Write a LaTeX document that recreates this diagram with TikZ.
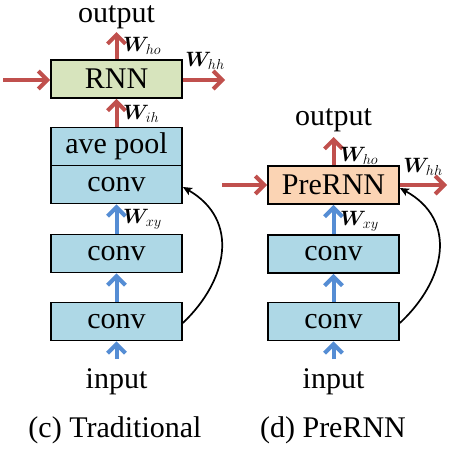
\documentclass[tikz,border=0pt]{standalone}
\usepackage{fontspec}
\setmainfont{Liberation Serif}
\usepackage{amsmath,bm}
\usetikzlibrary{arrows.meta}
\definecolor{redc}{RGB}{192,80,77}
\definecolor{bluec}{RGB}{85,141,212}
\definecolor{boxblue}{RGB}{174,216,230}
\definecolor{boxgreen}{RGB}{215,228,189}
\definecolor{boxorange}{RGB}{251,212,180}
\begin{document}
\begin{tikzpicture}[x=1pt,y=-1pt,
  box/.style={draw, line width=1.8pt, minimum width=131pt, minimum height=38pt, inner sep=0pt, font=\fontsize{30}{34}\selectfont, fill=boxblue},
  txt/.style={font=\fontsize{30}{34}\selectfont, inner sep=0pt, anchor=base},
  wl/.style={font=\fontsize{22}{24}\selectfont, inner sep=0pt},
  redarr/.style={draw=redc, line width=4pt, -{Straight Barb[length=9pt,width=18pt]}},
  bluearr/.style={draw=bluec, line width=4pt, -{Straight Barb[length=9pt,width=18pt]}},
  skiparr/.style={draw=black, line width=1.7pt, -{Stealth[length=9pt,width=8pt,inset=2pt]}}]
\useasboundingbox (0,0) rectangle (450,450);
% ---- left (c) ----
\node[box, fill=boxgreen] (rnn) at (116.5,79) {RNN};
\node[box] (pool) at (116.5,146.5) {ave pool};
\node[box] (c1) at (116.5,184.5) {conv};
\node[box] (c2) at (116.5,253.5) {conv};
\node[box] (c3) at (116.5,321.5) {conv};
\node[txt] (out1) at (116.5,22.5) {output};
\node[txt] (in1) at (116.5,388) {input};
\node[txt] (cap1) at (115,437) {(c) Traditional};
\coordinate (ltop) at (116.5,32);
\coordinate (lin) at (3,80);
\coordinate (lout) at (225,80);
\coordinate (lbot) at (116.5,359);
\draw[redarr] (rnn.north) -- (ltop);
\draw[redarr] (lin) -- (rnn.west |- lin);
\draw[redarr] (rnn.east |- lout) -- (lout);
\draw[redarr] (pool.north) -- (rnn.south);
\draw[bluearr] (c2.north) -- (c1.south);
\draw[bluearr] (c3.north) -- (c2.south);
\draw[bluearr] (lbot) -- (c3.south);
\node[wl, anchor=west] (who1) at (123,46) {$\bm{W}_{ho}$};
\node[wl] (whh1) at (205,61) {$\bm{W}_{hh}$};
\node[wl, anchor=west] (wih1) at (123,114) {$\bm{W}_{ih}$};
\node[wl, anchor=west] (wxy1) at (123,219) {$\bm{W}_{xy}$};
\draw[skiparr] (c3.east |- 0,323) .. controls (228,280) and (240,220) .. (c1.east |- 0,187);
% ---- right (d) ----
\node[box, fill=boxorange] (pre) at (333.5,185) {PreRNN};
\node[box] (d1) at (333.5,254) {conv};
\node[box] (d2) at (333.5,321.5) {conv};
\node[txt] (out2) at (333.5,125) {output};
\node[txt] (in2) at (333.5,388) {input};
\node[txt] (cap2) at (333,437) {(d) PreRNN};
\coordinate (rtop) at (333.5,137);
\coordinate (rin) at (222,185);
\coordinate (rout) at (447,185);
\coordinate (rbot) at (333.5,359);
\draw[redarr] (pre.north) -- (rtop);
\draw[redarr] (rin) -- (pre.west |- rin);
\draw[redarr] (pre.east |- rout) -- (rout);
\draw[bluearr] (d1.north) -- (pre.south);
\draw[bluearr] (d2.north) -- (d1.south);
\draw[bluearr] (rbot) -- (d2.south);
\node[wl, anchor=west] (who2) at (340,156) {$\bm{W}_{ho}$};
\node[wl] (whh2) at (423,167) {$\bm{W}_{hh}$};
\node[wl, anchor=west] (wxy2) at (340,221) {$\bm{W}_{xy}$};
\draw[skiparr] (d2.east |- 0,323) .. controls (446,280) and (458,220) .. (pre.east |- 0,188);
\end{tikzpicture}
\end{document}
